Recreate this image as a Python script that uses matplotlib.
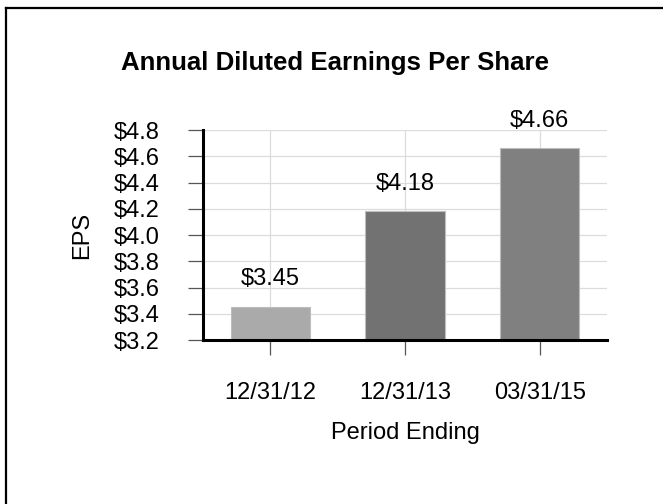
import matplotlib
matplotlib.use("Agg")
import matplotlib.pyplot as plt
from matplotlib.lines import Line2D

plt.rcParams['font.family'] = ['Liberation Sans', 'DejaVu Sans']

categories = ["12/31/12", "12/31/13", "03/31/15"]
eps = [3.45, 4.18, 4.66]
bar_colors = ["#aaaaaa", "#727272", "#808080"]
yticks = [3.2, 3.4, 3.6, 3.8, 4.0, 4.2, 4.4, 4.6, 4.8]

W, H = 663, 504
FS = 17
fig = plt.figure(figsize=(W / 100, H / 100), dpi=100)
ax = fig.add_axes([203 / W, 1 - 340 / H, (607 - 203) / W, (340 - 130) / H])

x = list(range(len(categories)))
ax.bar(x, eps, width=0.59, color=bar_colors, edgecolor="#bdbdbd", linewidth=0.8, zorder=3)
ax.set_xlim(-0.5, 2.5)
ax.set_ylim(3.2, 4.8)
ax.set_yticks(yticks)
ax.set_yticklabels([f"${v:.1f}" for v in yticks])
ax.set_xticks(x)
ax.set_xticklabels(categories)

ax.grid(True, color="#dcdcdc", linewidth=0.9, zorder=0)
ax.set_axisbelow(True)
for s in ["top", "right"]:
    ax.spines[s].set_visible(False)
for s in ["left", "bottom"]:
    ax.spines[s].set_linewidth(2.2)
    ax.spines[s].set_color("black")
    ax.spines[s].set_zorder(4)

ax.tick_params(axis="y", length=11, width=0.9, color="#555555", pad=20, labelsize=FS)
ax.tick_params(axis="x", length=11, width=0.9, color="#555555", pad=19, labelsize=FS)

for xi, v in zip(x, eps):
    ax.annotate(f"${v:.2f}", (xi, v), xytext=(0, 20), textcoords="offset points",
                ha="center", va="center", fontsize=FS, annotation_clip=False)

ax.set_ylabel("EPS", fontsize=FS)
ax.yaxis.set_label_coords((82 - 203) / 404, 0.5)
ax.yaxis.label.set_va("center")
ax.set_xlabel("Period Ending", fontsize=FS)
ax.xaxis.set_label_coords(0.5, (340 - 433) / 210)
ax.xaxis.label.set_va("center")

fig.text(335 / W, 1 - 63 / H, "Annual Diluted Earnings Per Share", ha="center", va="center",
         fontsize=18.6, fontweight="bold")

# page frame (left and top edges)
fig.add_artist(Line2D([6 / W, 6 / W], [0, 1 - 8 / H], transform=fig.transFigure, color="black", linewidth=1.6))
fig.add_artist(Line2D([6 / W, 1], [1 - 8 / H, 1 - 8 / H], transform=fig.transFigure, color="black", linewidth=1.6))

fig.savefig("out.png", dpi=100)
